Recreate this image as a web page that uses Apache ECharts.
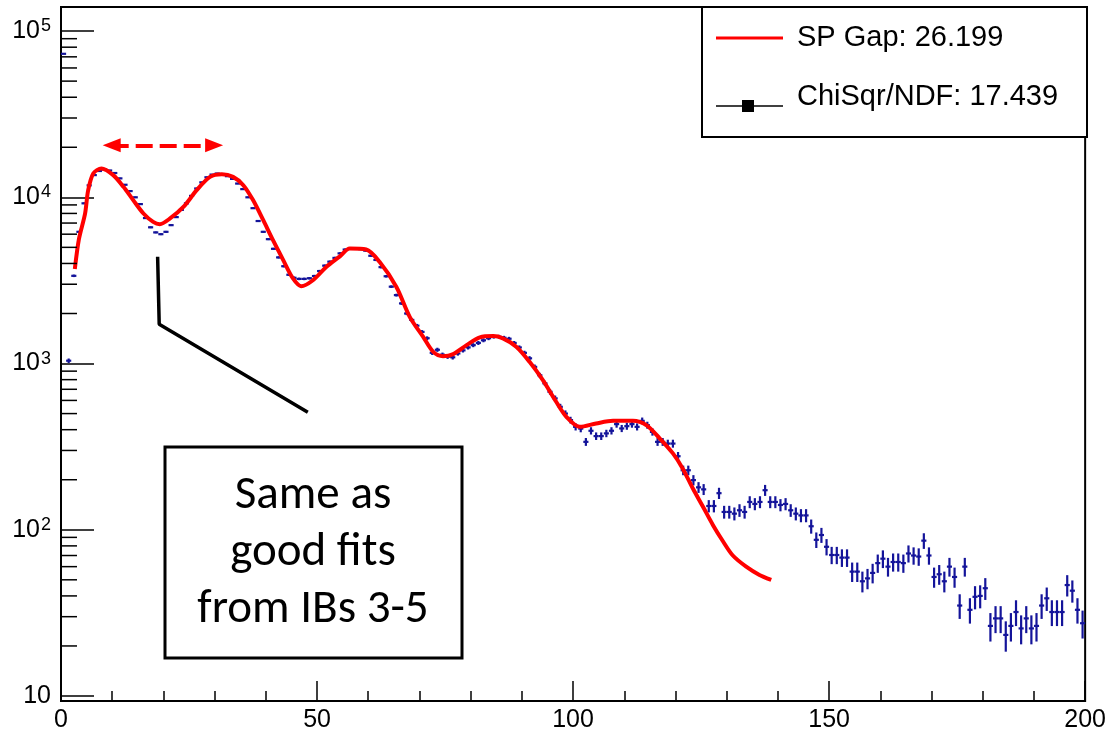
<!DOCTYPE html>
<html>
<head>
<meta charset="utf-8">
<script src="https://cdn.jsdelivr.net/npm/echarts@6/dist/echarts.min.js"></script>
<style>
  html, body { margin: 0; padding: 0; background: #fff; }
  #chart { width: 1109px; height: 735px; }
</style>
</head>
<body>
<div id="chart"></div>
<script>
// Histogram binning: unit-wide bins starting at 0
const binLow = 0;
const binWidth = 1;

// Counts per bin (bins 0..199)
const counts = [
  73000, 1040, 3370, 6200, 9200, 11800, 13600, 14400, 14700, 14500,
  14000, 13000, 11900, 10900, 10000, 9100, 7500, 6600, 6150, 6000,
  6200, 6800, 7600, 8400, 9200, 10200, 11300, 12300, 13200, 13700,
  13900, 13800, 13400, 12900, 12100, 11200, 10000, 8600, 7200, 6200,
  5600, 4900, 4350, 3850, 3420, 3280, 3230, 3230, 3260, 3360,
  3600, 3880, 4100, 4320, 4600, 4850, 4900, 4900, 4880, 4780,
  4450, 4200, 3800, 3350, 2900, 2580, 2300, 2000, 1830, 1690,
  1550, 1420, 1160, 1210, 1130, 1100, 1090, 1150, 1200, 1250,
  1290, 1330, 1380, 1420, 1450, 1450, 1430, 1410, 1330, 1250,
  1160, 1075, 955, 850, 760, 676, 617, 549, 500, 457,
  416, 406, 338, 394, 366, 366, 380, 394, 432, 407,
  420, 432, 416, 452, 426, 388, 338, 338, 330, 330,
  277, 228, 228, 199, 180, 175, 139, 139, 166, 128,
  128, 125, 131, 128, 147, 143, 147, 173, 147, 147,
  141, 143, 131, 125, 122, 122, 105, 87, 93, 79,
  70.5, 70.5, 68, 68, 56, 56, 49, 51, 55, 63,
  67, 60, 64, 64, 63, 72, 70, 69, 86, 70,
  52, 54, 49, 60, 52, 35, 60, 33, 39.5, 40,
  44.5, 26.4, 29.3, 29.3, 23.3, 26.4, 32, 25.5, 29.3, 25.5,
  26.4, 35, 38.7, 32, 32, 32, 46.5, 43, 33, 27.4
];

// Fitted model curve (x, value)
const fitX = [
  2.7, 3.5, 4.7, 5.3, 6.3, 7.9, 10.2, 12.2, 14.1, 16.1,
  18.0, 19.3, 21.3, 23.9, 26.5, 29.1, 31.4, 33.6, 35.6, 37.5,
  39.5, 41.4, 43.4, 45.3, 46.9, 49.2, 51.8, 54.4, 56.4, 59.6,
  62.2, 65.5, 68.1, 70.7, 72.7, 74.6, 76.6, 79.2, 81.8, 84.4,
  86.3, 88.9, 91.5, 94.1, 96.7, 98.7, 101.3, 104.5, 107.8, 111.7,
  114.3, 116.9, 119.5, 121.4, 123.4, 125.4, 127.3, 129.3, 131.2, 133.8,
  136.4, 138.7
];
const fitY = [
  3700, 5600, 7980, 11000, 13900, 14900, 13600, 11560, 9620, 7990,
  7110, 6890, 7460, 8750, 11040, 13270, 13770, 13270, 11830, 9620,
  7280, 5520, 4190, 3250, 2920, 3170, 3810, 4400, 4920, 4850,
  4090, 2890, 1910, 1450, 1175, 1107, 1140, 1290, 1436, 1462,
  1416, 1262, 1024, 794, 589, 478, 416, 436, 452, 452,
  426, 355, 288, 234, 177, 137, 107, 85, 70, 60,
  53.5, 49.9
];

// Axis ranges
const xRange = [0, 200];
const xMajorStep = 50;
const yRange = [9.33, 139600];

// Legend entries and annotation text
const legendLabels = ['SP Gap: 26.199', 'ChiSqr/NDF: 17.439'];
const noteLines = ['Same as', 'good fits', 'from IBs 3-5'];

// Annotations in data coordinates
const gapArrow = [[9.9, 20560], [29.9, 20560]];
const calloutPath = [[18.87, 4385], [19.18, 1726], [48.2, 510]];

const NAVY = '#14149a';
const RED = '#ff0000';
const SANS = '"Liberation Sans", Arial, Helvetica, sans-serif';
const NOTE_FONT = 'Carlito, Calibri, "Open Sans", Lato, sans-serif';

const histData = counts.map((c, i) => [binLow + (i + 0.5) * binWidth, c, Math.sqrt(c)]);

// Minor tick positions for the log axis (2..9 within each decade)
const minorY = [];
for (let d = 10; d < yRange[1]; d *= 10) {
  for (let m = 2; m <= 9; m++) {
    if (m * d > yRange[0] && m * d < yRange[1]) minorY.push([xRange[0], m * d]);
  }
}

const chart = echarts.init(document.getElementById('chart'), null, { renderer: 'canvas' });

const option = {
  animation: false,
  backgroundColor: '#fff',
  textStyle: { fontFamily: SANS },
  grid: {
    left: 61, right: 23, top: 7, bottom: 34,
    show: true, borderColor: '#000', borderWidth: 2, backgroundColor: 'transparent'
  },
  xAxis: {
    type: 'value',
    min: xRange[0], max: xRange[1], interval: xMajorStep,
    axisLine: { lineStyle: { color: '#000', width: 2 } },
    axisTick: { inside: true, length: 20, lineStyle: { color: '#000', width: 1.5 } },
    minorTick: { show: true, splitNumber: 5, length: 10, lineStyle: { color: '#000', width: 1.5 } },
    splitLine: { show: false },
    minorSplitLine: { show: false },
    axisLabel: {
      color: '#000', fontSize: 25, fontFamily: SANS, margin: 7,
      showMinLabel: true, showMaxLabel: true
    }
  },
  yAxis: {
    type: 'log', logBase: 10,
    min: yRange[0], max: yRange[1],
    axisLine: { lineStyle: { color: '#000', width: 2 } },
    axisTick: { inside: true, length: 33, lineStyle: { color: '#000', width: 1.5 } },
    splitLine: { show: false },
    axisLabel: {
      margin: 10,
      color: '#000',
      fontSize: 25,
      fontFamily: SANS,
      formatter: function (v) {
        const e = Math.log10(v);
        const r = Math.round(e);
        if (Math.abs(e - r) > 1e-6) return '';
        return r === 1 ? '{b|10}' : '{b|10}{s|' + r + '}';
      },
      rich: {
        b: { fontSize: 25, fontFamily: SANS, color: '#000', lineHeight: 28 },
        s: { fontSize: 18, fontFamily: SANS, color: '#000', verticalAlign: 'top', lineHeight: 20, padding: [0, 0, 0, 1] }
      }
    }
  },
  series: [
    {
      // minor ticks of the logarithmic axis
      type: 'custom',
      silent: true,
      data: minorY,
      encode: { x: 0, y: 1 },
      renderItem: function (params, api) {
        const p = api.coord([api.value(0), api.value(1)]);
        return {
          type: 'line',
          shape: { x1: p[0], y1: p[1], x2: p[0] + 16, y2: p[1] },
          style: { stroke: '#000', lineWidth: 1.5 }
        };
      },
      z: 5
    },
    {
      name: legendLabels[1],
      type: 'custom',
      data: histData,
      encode: { x: 0, y: 1 },
      clip: true,
      silent: true,
      renderItem: function (params, api) {
        const x = api.value(0), y = api.value(1), e = api.value(2);
        const l = api.coord([x - binWidth / 2, y]);
        const r = api.coord([x + binWidth / 2, y]);
        const t = api.coord([x, y + e]);
        const b = api.coord([x, Math.max(y - e, 1e-3)]);
        const style = { stroke: NAVY, lineWidth: 2.2 };
        return {
          type: 'group',
          children: [
            { type: 'line', shape: { x1: l[0], y1: l[1], x2: r[0], y2: r[1] }, style: style },
            { type: 'line', shape: { x1: t[0], y1: t[1], x2: b[0], y2: b[1] }, style: style }
          ]
        };
      },
      z: 2
    },
    {
      name: legendLabels[0],
      type: 'line',
      data: fitX.map((x, i) => [x, fitY[i]]),
      smooth: 0.3,
      showSymbol: false,
      symbol: 'none',
      clip: true,
      silent: true,
      lineStyle: { color: RED, width: 4 },
      z: 3,
      markLine: {
        silent: true,
        symbol: ['triangle', 'triangle'],
        symbolSize: [14, 18],
        label: { show: false },
        lineStyle: { color: RED, width: 4, type: [17, 7] },
        emphasis: { disabled: true },
        data: [[{ coord: gapArrow[0] }, { coord: gapArrow[1] }]]
      }
    },
    {
      // callout pointer to the first dip
      type: 'line',
      data: calloutPath,
      symbol: 'none',
      silent: true,
      lineStyle: { color: '#000', width: 3.5 },
      z: 4
    }
  ],
  graphic: [
    {
      type: 'group',
      z: 100,
      children: [
        { type: 'rect', shape: { x: 702, y: 7, width: 385, height: 130 }, style: { fill: '#fff', stroke: '#000', lineWidth: 2 } },
        { type: 'line', shape: { x1: 716, y1: 38, x2: 783, y2: 38 }, style: { stroke: RED, lineWidth: 3 } },
        { type: 'text', style: { x: 797, y: 38, text: legendLabels[0], fontSize: 29, fontFamily: SANS, fill: '#000', textVerticalAlign: 'middle' } },
        { type: 'line', shape: { x1: 716, y1: 106, x2: 783, y2: 106 }, style: { stroke: '#000', lineWidth: 1.5 } },
        { type: 'rect', shape: { x: 742, y: 100, width: 12, height: 12 }, style: { fill: '#000' } },
        { type: 'text', style: { x: 797, y: 97, text: legendLabels[1], fontSize: 29, fontFamily: SANS, fill: '#000', textVerticalAlign: 'middle' } }
      ]
    },
    {
      type: 'group',
      z: 100,
      children: [
        { type: 'rect', shape: { x: 165, y: 447, width: 297, height: 211 }, style: { fill: '#fff', stroke: '#000', lineWidth: 3 } },
        { type: 'text', style: { x: 313, y: 553, text: noteLines.join('\n'), fontSize: 47, lineHeight: 57, fontFamily: NOTE_FONT, fill: '#000', textAlign: 'center', textVerticalAlign: 'middle' } }
      ]
    }
  ]
};

chart.setOption(option);
</script>
</body>
</html>
